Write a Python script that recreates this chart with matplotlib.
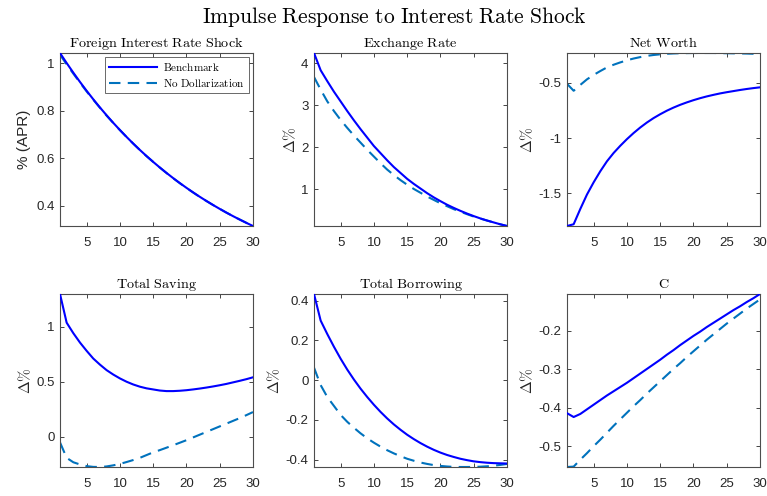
import matplotlib
matplotlib.use("Agg")
import matplotlib.pyplot as plt
from matplotlib.ticker import FuncFormatter

plt.rcParams['mathtext.fontset'] = 'cm'
plt.rcParams['axes.unicode_minus'] = False
plt.rcParams['font.family'] = ['Liberation Sans', 'DejaVu Sans']

periods = list(range(1, 31))

titles = ["Foreign Interest Rate Shock", "Exchange Rate", "Net Worth",
          "Total Saving", "Total Borrowing", "C"]
ylabels = ["% (APR)", r"$\Delta\%$", r"$\Delta\%$", r"$\Delta\%$", r"$\Delta\%$", r"$\Delta\%$"]
series_names = ["Benchmark", "No Dollarization"]

shock_bench = [1.043, 1.0007, 0.9601, 0.9211, 0.8837, 0.8478, 0.8134, 0.7804, 0.7487, 0.7183,
               0.6892, 0.6612, 0.6343, 0.6086, 0.5839, 0.5602, 0.5374, 0.5156, 0.4947, 0.4746,
               0.4553, 0.4368, 0.4191, 0.4021, 0.3858, 0.3701, 0.3551, 0.3407, 0.3268, 0.3136]
shock_nodoll = [1.036, 0.995, 0.956, 0.918, 0.881, 0.846, 0.812, 0.779, 0.748, 0.718,
                0.689, 0.661, 0.634, 0.608, 0.584, 0.560, 0.537, 0.515, 0.494, 0.474,
                0.455, 0.436, 0.419, 0.402, 0.386, 0.370, 0.355, 0.341, 0.327, 0.314]

fx_bench = [4.24, 3.83, 3.57, 3.32, 3.09, 2.86, 2.64, 2.43, 2.23, 2.03,
            1.86, 1.69, 1.53, 1.39, 1.25, 1.13, 1.02, 0.91, 0.81, 0.72,
            0.635, 0.56, 0.49, 0.425, 0.365, 0.31, 0.26, 0.215, 0.17, 0.13]
fx_nodoll = [3.67, 3.37, 3.09, 2.86, 2.65, 2.46, 2.28, 2.11, 1.94, 1.78,
             1.62, 1.47, 1.34, 1.22, 1.11, 1.01, 0.92, 0.83, 0.75, 0.67,
             0.60, 0.53, 0.47, 0.41, 0.355, 0.305, 0.26, 0.215, 0.17, 0.13]

nw_bench = [-1.794, -1.778, -1.64, -1.51, -1.40, -1.30, -1.21, -1.135, -1.07, -1.01,
            -0.955, -0.905, -0.86, -0.82, -0.785, -0.753, -0.725, -0.70, -0.678, -0.658,
            -0.64, -0.624, -0.61, -0.597, -0.586, -0.576, -0.566, -0.557, -0.549, -0.542]
nw_nodoll = [-0.51, -0.573, -0.52, -0.47, -0.43, -0.395, -0.362, -0.338, -0.317, -0.298,
             -0.282, -0.269, -0.258, -0.25, -0.244, -0.239, -0.236, -0.234, -0.233, -0.232,
             -0.232, -0.232, -0.232, -0.233, -0.234, -0.235, -0.236, -0.237, -0.239, -0.241]

sav_bench = [1.295, 1.035, 0.94, 0.855, 0.78, 0.71, 0.655, 0.605, 0.565, 0.53,
             0.50, 0.475, 0.455, 0.44, 0.43, 0.42, 0.415, 0.415, 0.418, 0.423,
             0.43, 0.438, 0.447, 0.457, 0.468, 0.48, 0.494, 0.508, 0.523, 0.54]
sav_nodoll = [-0.05, -0.19, -0.23, -0.25, -0.265, -0.272, -0.273, -0.268, -0.258, -0.245,
              -0.228, -0.21, -0.19, -0.165, -0.14, -0.12, -0.098, -0.076, -0.053, -0.03,
              -0.005, 0.02, 0.045, 0.07, 0.095, 0.12, 0.145, 0.17, 0.197, 0.225]

bor_bench = [0.434, 0.30, 0.232, 0.168, 0.108, 0.053, 0.003, -0.043, -0.085, -0.124,
             -0.16, -0.193, -0.223, -0.25, -0.275, -0.297, -0.317, -0.335, -0.351, -0.365,
             -0.377, -0.387, -0.396, -0.403, -0.409, -0.413, -0.416, -0.418, -0.419, -0.42]
bor_nodoll = [0.063, -0.025, -0.085, -0.13, -0.175, -0.21, -0.24, -0.268, -0.293, -0.315,
              -0.335, -0.353, -0.369, -0.383, -0.396, -0.406, -0.415, -0.422, -0.428, -0.432,
              -0.435, -0.437, -0.4375, -0.4375, -0.437, -0.436, -0.434, -0.431, -0.427, -0.422]

c_bench = [-0.414, -0.424, -0.416, -0.404, -0.392, -0.38, -0.368, -0.357, -0.346, -0.335,
           -0.323, -0.311, -0.299, -0.287, -0.275, -0.262, -0.25, -0.237, -0.225, -0.213,
           -0.202, -0.19, -0.179, -0.168, -0.157, -0.146, -0.136, -0.125, -0.115, -0.104]
c_nodoll = [-0.554, -0.553, -0.535, -0.518, -0.50, -0.483, -0.465, -0.447, -0.43, -0.413,
            -0.396, -0.38, -0.363, -0.347, -0.331, -0.315, -0.299, -0.284, -0.268, -0.253,
            -0.238, -0.223, -0.209, -0.195, -0.181, -0.168, -0.155, -0.142, -0.13, -0.118]

bench_all = [shock_bench, fx_bench, nw_bench, sav_bench, bor_bench, c_bench]
nodoll_all = [shock_nodoll, fx_nodoll, nw_nodoll, sav_nodoll, bor_nodoll, c_nodoll]

xticks = [5, 10, 15, 20, 25, 30]
yticks_all = [[0.4, 0.6, 0.8, 1], [1, 2, 3, 4], [-1.5, -1, -0.5],
              [0, 0.5, 1], [-0.4, -0.2, 0, 0.2, 0.4], [-0.5, -0.4, -0.3, -0.2]]

W, H = 767, 496
fig = plt.figure(figsize=(W / 100, H / 100), dpi=100)

lefts = [60, 314, 567]
tops = [53, 294]
aw, ah = 193, 173

fmt = FuncFormatter(lambda v, p: "%g" % v)
edge = (0.15, 0.15, 0.15)


def cm(s):
    return r"$\mathrm{" + s.replace(" ", r"\ ") + "}$"


for i in range(6):
    r, c = divmod(i, 3)
    ax = fig.add_axes([lefts[c] / W, 1 - (tops[r] + ah) / H, aw / W, ah / H])
    b = bench_all[i]
    n = nodoll_all[i]
    ax.plot(periods, b, color=(0, 0, 1), lw=1.5, label=series_names[0], zorder=3)
    ax.plot(periods, n, color=(0, 0.447, 0.741), lw=1.5, dashes=(5.5, 3.5),
            label=series_names[1], zorder=2)
    lo = min(min(b), min(n))
    hi = max(max(b), max(n))
    ax.set_xlim(1, 30)
    ax.set_ylim(lo, hi)
    ax.set_xticks(xticks)
    ax.set_yticks(yticks_all[i])
    ax.yaxis.set_major_formatter(fmt)
    ax.tick_params(direction='in', length=3, width=0.6, top=True, right=True,
                   labelsize=9.5, colors=edge)
    ax.tick_params(axis='x', pad=8)
    ax.tick_params(axis='y', pad=4)
    for s in ax.spines.values():
        s.set_color((0.3, 0.3, 0.3))
        s.set_linewidth(0.8)
    ax.set_title(cm(titles[i]), fontsize=10.2, pad=4, color='black')
    if i == 0:
        ax.set_ylabel(ylabels[i], fontsize=11, color=edge, labelpad=4)
        leg = ax.legend(loc='upper right', fontsize=8, frameon=True, fancybox=False,
                        edgecolor=edge, handlelength=4.3, borderpad=0.35, labelspacing=0.35,
                        handletextpad=0.6, borderaxespad=0.35)
        leg.get_frame().set_linewidth(0.6)
        for t, name in zip(leg.get_texts(), series_names):
            t.set_text(cm(name))
    else:
        ax.set_ylabel(ylabels[i], fontsize=11, color=edge, labelpad=2)

fig.text(394 / W, 1 - 17 / H, cm("Impulse Response to Interest Rate Shock"),
         ha='center', va='center', fontsize=15.5)

fig.savefig("out.png", dpi=100)
